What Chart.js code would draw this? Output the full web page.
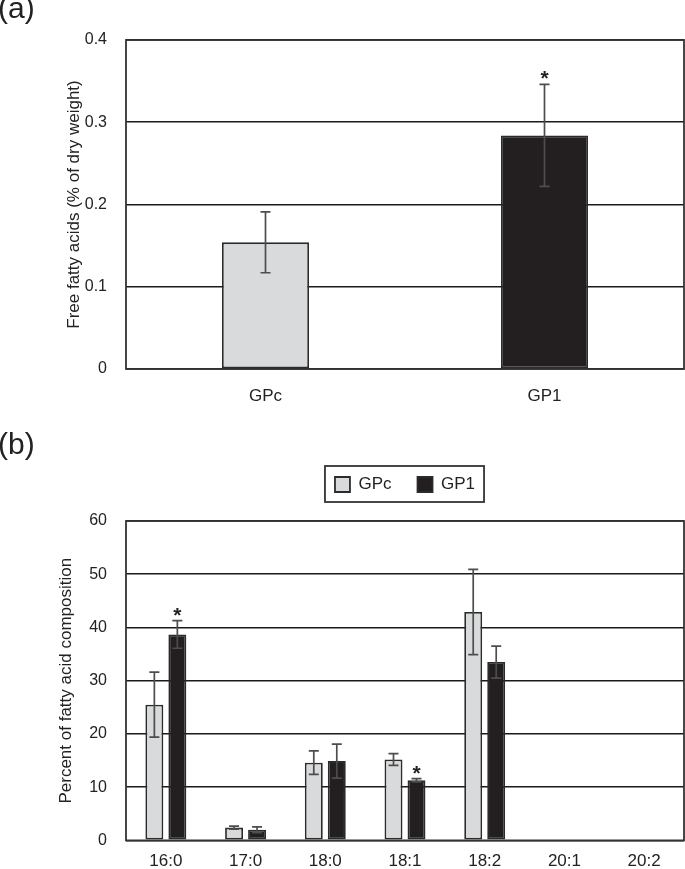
<!DOCTYPE html>
<html>
<head>
<meta charset="utf-8">
<script src="https://cdn.jsdelivr.net/npm/chart.js@4.4.1/dist/chart.umd.min.js"></script>
<style>
  body { margin: 0; background: #fff; }
  #page { position: relative; width: 685px; height: 869px; overflow: hidden; background: #fff; }
  .panel { position: absolute; left: 0; }
  .tag { position: absolute; left: -2px; font: 30px/30px "Liberation Sans", Arial, sans-serif; color: #222; }
</style>
</head>
<body>
<div id="page">
  <div class="panel" style="top:0"><canvas id="chartA" width="685" height="415"></canvas></div>
  <div class="panel" style="top:420px"><canvas id="chartB" width="685" height="449"></canvas></div>
  <div class="tag" style="top:-7px">(a)</div>
  <div class="tag" style="top:429px">(b)</div>
</div>
<script>
// (a) free fatty acids, % of dry weight
const groupsA = ['GPc', 'GP1'];
const ffaMeans = [0.154, 0.284];
const ffaErr = [0.037, 0.062];
const ffaSig = [false, true];
const ticksA = [0, 0.1, 0.2, 0.3, 0.4];

// (b) fatty acid composition, %
const fattyAcids = ['16:0', '17:0', '18:0', '18:1', '18:2', '20:1', '20:2'];
const gpcPct = [25.5, 2.4, 14.6, 15.2, 42.9, 0, 0];
const gpcErr = [6.1, 0.3, 2.2, 1.1, 8.0, 0, 0];
const gp1Pct = [38.7, 2.0, 14.9, 11.3, 33.5, 0, 0];
const gp1Err = [2.6, 0.55, 3.2, 0.3, 3.0, 0, 0];
const gp1Sig = [true, false, false, true, false, false, false];
const ticksB = [0, 10, 20, 30, 40, 50, 60];

const GPC_FILL = '#d9dadb';
const GP1_FILL = '#231f20';
const EDGE = '#2b2b2b';
const INK = '#222';

Chart.defaults.font.family = '"Liberation Sans", Arial, sans-serif';
Chart.defaults.color = INK;
Chart.defaults.animation = false;

// error bars + significance stars, drawn from the dataset values
const errorBars = {
  id: 'errorBars',
  afterDatasetsDraw(chart) {
    const ctx = chart.ctx;
    const y = chart.scales.y;
    chart.data.datasets.forEach((ds, di) => {
      const meta = chart.getDatasetMeta(di);
      meta.data.forEach((bar, i) => {
        const v = ds.data[i];
        const e = ds.errors ? ds.errors[i] : 0;
        const top = y.getPixelForValue(v + e);
        if (e) {
          const bot = y.getPixelForValue(v - e);
          ctx.save();
          ctx.strokeStyle = '#4d4d4d';
          ctx.lineWidth = 1.7;
          ctx.beginPath();
          ctx.moveTo(bar.x, top); ctx.lineTo(bar.x, bot);
          ctx.moveTo(bar.x - 5, top); ctx.lineTo(bar.x + 5, top);
          ctx.moveTo(bar.x - 5, bot); ctx.lineTo(bar.x + 5, bot);
          ctx.stroke();
          ctx.restore();
        }
        if (ds.sig && ds.sig[i]) {
          ctx.save();
          ctx.fillStyle = INK;
          ctx.font = 'bold 21px "Liberation Sans", Arial, sans-serif';
          ctx.textAlign = 'center';
          ctx.textBaseline = 'alphabetic';
          ctx.fillText('*', bar.x, top + 1);
          ctx.restore();
        }
      });
    });
  }
};

const frame = {
  id: 'frame',
  afterDatasetsDraw(chart) {
    const a = chart.chartArea, ctx = chart.ctx;
    ctx.save();
    ctx.strokeStyle = '#333';
    ctx.lineWidth = 1.8;
    ctx.strokeRect(a.left, a.top, a.right - a.left, a.bottom - a.top);
    ctx.restore();
  }
};

// centre the legend over the plot, lift it, and box it
const legendBox = {
  id: 'legendBox',
  afterLayout(chart) {
    const lg = chart.legend;
    if (!lg || !lg.options.display) return;
    const a = chart.chartArea;
    const dx = (a.left + a.right) / 2 - (lg.left + lg.right) / 2;
    lg.left += dx; lg.right += dx;
    lg.top -= 18; lg.bottom -= 18;
  },
  afterDraw(chart) {
    const lg = chart.legend;
    if (!lg || !lg.options.display) return;
    const hb = lg.legendHitBoxes;
    const l = Math.min(...hb.map(h => h.left)) - 10;
    const r = Math.max(...hb.map(h => h.left + h.width)) + 9;
    const t = Math.min(...hb.map(h => h.top)) - 10;
    const b = Math.max(...hb.map(h => h.top + h.height)) + 9;
    const ctx = chart.ctx;
    ctx.save();
    ctx.strokeStyle = '#333';
    ctx.lineWidth = 1.8;
    ctx.strokeRect(l, t, r - l, b - t);
    ctx.restore();
  }
};

function yAxis(ticks, title, titleCenter) {
  return {
    min: ticks[0],
    max: ticks[ticks.length - 1],
    afterBuildTicks: s => { s.ticks = ticks.map(v => ({ value: v })); },
    afterFit: s => { s.width = 126; },
    grid: { color: '#1a1a1a', lineWidth: 1.6, drawTicks: false },
    border: { display: false },
    ticks: { font: { size: 16 }, padding: 19, color: INK },
    title: { display: true, text: title, font: { size: 17 }, color: INK,
             padding: { top: titleCenter - 10.2, bottom: 0 } }
  };
}

function xAxis(height, pad) {
  return {
    afterFit: s => { s.height = height; },
    grid: { display: false, drawTicks: false },
    border: { display: false },
    ticks: { font: { size: 17 }, padding: pad, color: INK }
  };
}

new Chart(document.getElementById('chartA'), {
  type: 'bar',
  data: {
    labels: groupsA,
    datasets: [{
      data: ffaMeans,
      errors: ffaErr,
      sig: ffaSig,
      backgroundColor: [GPC_FILL, GP1_FILL],
      borderColor: EDGE,
      borderWidth: 1.8,
      borderSkipped: false,
      categoryPercentage: 1,
      barPercentage: 0.312
    }]
  },
  options: {
    responsive: false,
    layout: { padding: { top: 40, right: 1, left: 0, bottom: 0 } },
    plugins: { legend: { display: false }, tooltip: { enabled: false } },
    scales: {
      x: xAxis(46, 17),
      y: yAxis(ticksA, 'Free fatty acids (% of dry weight)', 74)
    }
  },
  plugins: [errorBars, frame]
});

new Chart(document.getElementById('chartB'), {
  type: 'bar',
  data: {
    labels: fattyAcids,
    datasets: [
      { label: 'GPc', data: gpcPct, errors: gpcErr,
        backgroundColor: GPC_FILL, borderColor: EDGE, borderWidth: 1.8, borderSkipped: false,
        categoryPercentage: 0.577, barPercentage: 0.78 },
      { label: 'GP1', data: gp1Pct, errors: gp1Err, sig: gp1Sig,
        backgroundColor: GP1_FILL, borderColor: EDGE, borderWidth: 1.8, borderSkipped: false,
        categoryPercentage: 0.577, barPercentage: 0.78 }
    ]
  },
  options: {
    responsive: false,
    layout: { padding: { top: 48, right: 1, left: 0, bottom: 0 } },
    plugins: {
      tooltip: { enabled: false },
      legend: {
        position: 'top',
        labels: { boxWidth: 15, boxHeight: 15, padding: 26, font: { size: 17 }, color: INK }
      }
    },
    scales: {
      x: xAxis(27, 11),
      y: yAxis(ticksB, 'Percent of fatty acid composition', 66)
    }
  },
  plugins: [errorBars, frame, legendBox]
});
</script>
</body>
</html>
